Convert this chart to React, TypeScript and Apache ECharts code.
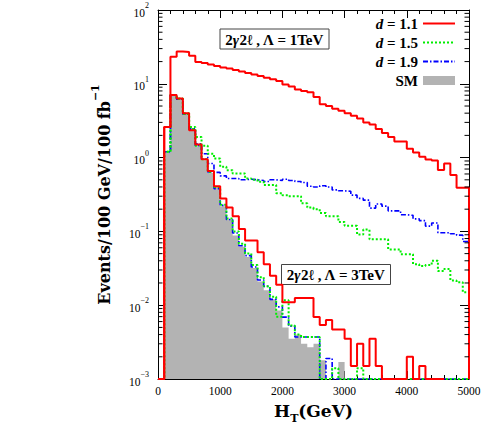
import React, { useEffect, useRef } from 'react';
import * as echarts from 'echarts';

// ---------- data (events per 100 GeV bin, bins 0-100, 100-200, ... GeV) ----------
const BIN_WIDTH = 100;
const X_MIN = 0;
const X_MAX = 5000;
const X_INTERVAL = 1000;
const Y_MIN = 0.001;
const Y_MAX = 100;

const legendNames = ['d = 1.1', 'd = 1.5', 'd = 1.9', 'SM'];

const smValues = [
  0, 1.15, 7.0, 6.2, 3.9, 2.4, 1.4, 0.92, 0.62, 0.4,
  0.22, 0.145, 0.088, 0.062, 0.045, 0.032, 0.021, 0.016, 0.012, 0.0085,
  0.005, 0.0035, 0.004, 0.003, 0.0027, 0.003, 0.0018, 0, 0, 0.0017,
  0, 0, 0, 0, 0, 0, 0, 0, 0, 0,
  0, 0, 0, 0, 0, 0, 0, 0, 0, 0,
];

// Lambda = 1 TeV
const d11L1 = [
  0, 2.6, 23.3, 27.4, 26.9, 24.0, 19.8, 19.1, 18.2, 17.4,
  16.6, 16.1, 15.4, 14.7, 14.0, 13.4, 12.8, 12.1, 11.5, 10.9,
  9.8, 9.2, 8.4, 8.0, 7.7, 6.6, 5.3, 5.0, 4.6, 4.3,
  4.0, 3.7, 3.4, 3.0, 2.8, 2.45, 2.16, 1.9, 1.65, 1.65,
  1.32, 1.17, 1.03, 0.94, 0.91, 0.68, 0.83, 0.58, 0.39, 0.39,
];
const d15L1 = [
  0, 1.2, 7.06, 6.3, 4.0, 2.6, 1.9, 1.45, 1.13, 0.97,
  0.75, 0.675, 0.61, 0.61, 0.52, 0.5, 0.47, 0.425, 0.425, 0.33,
  0.31, 0.3, 0.3, 0.24, 0.21, 0.2, 0.178, 0.16, 0.16, 0.134,
  0.119, 0.119, 0.091, 0.106, 0.078, 0.078, 0.078, 0.057, 0.057, 0.049,
  0.049, 0.036, 0.034, 0.035, 0.04, 0.029, 0.031, 0.0216, 0.0205, 0.015,
];
const d19L1 = [
  0, 1.2, 7.06, 6.2, 3.9, 2.45, 1.54, 1.13, 0.83, 0.63,
  0.565, 0.52, 0.52, 0.5, 0.51, 0.5, 0.49, 0.475, 0.5, 0.49,
  0.51, 0.49, 0.475, 0.46, 0.41, 0.4, 0.415, 0.4, 0.365, 0.355,
  0.35, 0.31, 0.28, 0.265, 0.207, 0.235, 0.22, 0.19, 0.19, 0.168,
  0.165, 0.148, 0.14, 0.118, 0.13, 0.096, 0.096, 0.093, 0.089, 0.073,
];

// Lambda = 3 TeV
const d11L3 = [
  0, 2.6, 7.06, 6.3, 4.0, 2.35, 1.5, 0.95, 0.66, 0.41,
  0.28, 0.21, 0.16, 0.108, 0.075, 0.075, 0.052, 0.036, 0.025, 0.019,
  0.011, 0.011, 0.0125, 0.0125, 0.0125, 0.0069, 0.0054, 0.0063, 0.0047, 0.0047,
  0.0035, 0.0015, 0.003, 0.0015, 0.0035, 0.0015, 0, 0, 0, 0,
  0.002, 0, 0.0015, 0, 0, 0,
];
const d15L3 = [
  0, 1.2, 7.06, 6.2, 3.9, 2.45, 1.45, 0.95, 0.64, 0.4,
  0.23, 0.15, 0.1, 0.068, 0.05, 0.035, 0.024, 0.018, 0.013, 0.007,
  0.0117, 0.0053, 0.004, 0.0037, 0.0037, 0.0037, 0, 0, 0.0014, 0,
  0, 0, 0.0014, 0, 0, 0, 0, 0, 0, 0,
  0, 0, 0, 0, 0, 0, 0, 0, 0, 0,
];
const d19L3 = [
  0, 1.2, 7.06, 6.2, 3.9, 2.4, 1.45, 0.95, 0.64, 0.38,
  0.225, 0.145, 0.095, 0.064, 0.047, 0.033, 0.022, 0.018, 0.012, 0.0095,
  0.0069, 0.0052, 0.0037, 0.0037, 0.0037, 0.0037, 0, 0.0019, 0, 0,
  0, 0, 0, 0, 0, 0, 0, 0, 0, 0,
  0, 0, 0, 0, 0, 0, 0, 0, 0, 0,
];

const yDecades = [0.001, 0.01, 0.1, 1, 10];
const yMinorMantissas = [2, 3, 4, 5, 6, 7, 8, 9];

// ---------- styles ----------
const SERIF = '"Liberation Serif", "DejaVu Serif", serif';
const TITLE_FONT = '"DejaVu Serif", "Liberation Serif", serif';
const RED = '#ff0000';
const GREEN = '#00ee00';
const BLUE = '#0000ff';
const GRAY = '#b3b3b3';

function histPoints(vals: number[]): [number, number][] {
  const pts: [number, number][] = vals.map((v, i) => [i * BIN_WIDTH, v > 0 ? v : Y_MIN]);
  const end = vals.length * BIN_WIDTH;
  const last = vals[vals.length - 1] > 0 ? vals[vals.length - 1] : Y_MIN;
  pts.push([end, last]);
  pts.push([end, Y_MIN]);
  return pts;
}

function lineSeries(name: string, vals: number[], color: string, width: number, type: any, z: number) {
  return {
    type: 'line',
    name,
    data: histPoints(vals),
    step: 'end',
    symbol: 'none',
    z,
    color,
    lineStyle: { color, width, type },
    itemStyle: { color },
  };
}

function expLabel(v: number) {
  const e = Math.round(Math.log10(v));
  const s = e < 0 ? '\u2212' + String(-e) : String(e);
  return '{b|10}{s|' + s + '}';
}

export default function App() {
  const ref = useRef<HTMLDivElement>(null);

  useEffect(() => {
    const chart = echarts.init(ref.current!, null, { renderer: 'svg' });

    const minorTicks: number[][] = [];
    yDecades.forEach((d) => yMinorMantissas.forEach((m) => minorTicks.push([0, m * d])));

    const annot = (x: number, y: number, label: string) => ({
      type: 'group',
      z: 100,
      children: [
        {
          type: 'rect',
          shape: { x, y, width: 109, height: 20 },
          style: { fill: '#fff', stroke: '#444', lineWidth: 1 },
        },
        {
          type: 'text',
          x: x + 54.5,
          y: y + 10.5,
          style: {
            text: '{n|2}{g|\u03b3}{n|2\u2113 , \u039b = ' + label + '}',
            align: 'center',
            verticalAlign: 'middle',
            rich: {
              n: { fontFamily: SERIF, fontWeight: 'bold', fontSize: 15, fill: '#000' },
              g: { fontFamily: SERIF, fontWeight: 'bold', fontStyle: 'italic', fontSize: 15, fill: '#000' },
            },
          },
        },
      ],
    });

    const option: any = {
      animation: false,
      backgroundColor: '#fff',
      grid: { left: 158, right: 16, top: 10, bottom: 46, containLabel: false },
      legend: {
        orient: 'vertical',
        right: 29,
        top: 16,
        padding: 0,
        align: 'right',
        itemWidth: 32,
        itemHeight: 9,
        itemGap: 4,
        selectedMode: false,
        itemStyle: { opacity: 0 },
        data: [
          { name: legendNames[0] },
          { name: legendNames[1] },
          { name: legendNames[2] },
          { name: legendNames[3], icon: 'rect', itemStyle: { color: GRAY, opacity: 1, borderWidth: 0 } },
        ],
        formatter: (name: string) =>
          name === 'SM' ? '{n|SM}' : '{i|d}{n|' + name.slice(1) + '}',
        textStyle: {
          lineHeight: 14,
          rich: {
            n: { fontFamily: SERIF, fontWeight: 'bold', fontSize: 15, color: '#000' },
            i: { fontFamily: SERIF, fontWeight: 'bold', fontStyle: 'italic', fontSize: 15, color: '#000' },
          },
        },
      },
      xAxis: [
        {
          type: 'value',
          min: X_MIN,
          max: X_MAX,
          interval: X_INTERVAL,
          position: 'bottom',
          name: '{b|H}{sub|T}{b|(GeV)}',
          nameLocation: 'middle',
          nameGap: 23,
          nameTextStyle: {
            rich: {
              b: { fontFamily: TITLE_FONT, fontWeight: 'bold', fontSize: 17, lineHeight: 22, verticalAlign: 'top', color: '#000' },
              sub: { fontFamily: TITLE_FONT, fontWeight: 'bold', fontSize: 11, verticalAlign: 'bottom', color: '#000' },
            },
          },
          splitLine: { show: false },
          axisLine: { show: true, onZero: false, lineStyle: { color: '#000', width: 1 } },
          axisTick: { show: true, inside: true, length: 8, lineStyle: { color: '#000' } },
          minorTick: { show: true, splitNumber: 5, length: 4, lineStyle: { color: '#000' } },
          axisLabel: {
            margin: 6,
            fontFamily: SERIF,
            fontSize: 11.5,
            color: '#000',
            formatter: (v: number) => String(v),
          },
        },
        {
          type: 'value',
          min: X_MIN,
          max: X_MAX,
          interval: X_INTERVAL,
          position: 'top',
          splitLine: { show: false },
          axisLine: { show: true, onZero: false, lineStyle: { color: '#000', width: 1 } },
          axisTick: { show: true, inside: true, length: 8, lineStyle: { color: '#000' } },
          minorTick: { show: true, splitNumber: 5, length: 4, lineStyle: { color: '#000' } },
          axisLabel: { show: false },
        },
      ],
      yAxis: [
        {
          type: 'log',
          logBase: 10,
          min: Y_MIN,
          max: Y_MAX,
          position: 'left',
          name: '{b|Events/100 GeV/100 fb}{s|\u22121}',
          nameLocation: 'middle',
          nameGap: 46,
          nameTextStyle: {
            rich: {
              b: { fontFamily: TITLE_FONT, fontWeight: 'bold', fontSize: 16, lineHeight: 22, verticalAlign: 'bottom', color: '#000' },
              s: { fontFamily: TITLE_FONT, fontWeight: 'bold', fontSize: 11, verticalAlign: 'top', color: '#000' },
            },
          },
          splitLine: { show: false },
          axisLine: { show: true, onZero: false, lineStyle: { color: '#000', width: 1 } },
          axisTick: { show: true, inside: true, length: 9, lineStyle: { color: '#000' } },
          axisLabel: {
            margin: 9,
            formatter: (v: number) => expLabel(v),
            rich: {
              b: { fontFamily: SERIF, fontSize: 11.5, lineHeight: 17, verticalAlign: 'bottom', color: '#000' },
              s: { fontFamily: SERIF, fontSize: 8, verticalAlign: 'top', color: '#000' },
            },
          },
        },
        {
          type: 'log',
          logBase: 10,
          min: Y_MIN,
          max: Y_MAX,
          position: 'right',
          splitLine: { show: false },
          axisLine: { show: true, onZero: false, lineStyle: { color: '#000', width: 1 } },
          axisTick: { show: true, inside: true, length: 9, lineStyle: { color: '#000' } },
          axisLabel: { show: false },
        },
      ],
      series: [
        {
          type: 'line',
          name: 'SM',
          data: histPoints(smValues),
          step: 'end',
          symbol: 'none',
          z: 1,
          color: GRAY,
          itemStyle: { color: GRAY },
          lineStyle: { width: 0, color: GRAY },
          areaStyle: { color: GRAY, opacity: 1, origin: 'start' },
        },
        lineSeries(legendNames[0], d11L1, RED, 2, 'solid', 5),
        lineSeries(legendNames[1], d15L1, GREEN, 2, [2, 2], 4),
        lineSeries(legendNames[2], d19L1, BLUE, 1.6, [5, 2, 1.5, 2], 3),
        lineSeries(legendNames[0], d11L3, RED, 2, 'solid', 5),
        lineSeries(legendNames[1], d15L3, GREEN, 2, [2, 2], 4),
        lineSeries(legendNames[2], d19L3, BLUE, 1.6, [5, 2, 1.5, 2], 3),
        {
          type: 'custom',
          name: 'minorTicks',
          silent: true,
          z: 10,
          data: minorTicks,
          renderItem: (params: any, api: any) => {
            const v = api.value(1);
            const l = api.coord([X_MIN, v]);
            const r = api.coord([X_MAX, v]);
            return {
              type: 'group',
              children: [
                { type: 'line', shape: { x1: l[0], y1: l[1], x2: l[0] + 4.5, y2: l[1] }, style: { stroke: '#000', lineWidth: 1 } },
                { type: 'line', shape: { x1: r[0], y1: r[1], x2: r[0] - 4.5, y2: r[1] }, style: { stroke: '#000', lineWidth: 1 } },
              ],
            };
          },
        },
      ],
      graphic: [annot(220, 29, '1TeV'), annot(281.5, 264.5, '3TeV')],
    };

    chart.setOption(option);
    return () => chart.dispose();
  }, []);

  return (
    <div
      ref={ref}
      style={{ position: 'absolute', left: 0, top: 0, width: 485, height: 429 }}
    />
  );
}
